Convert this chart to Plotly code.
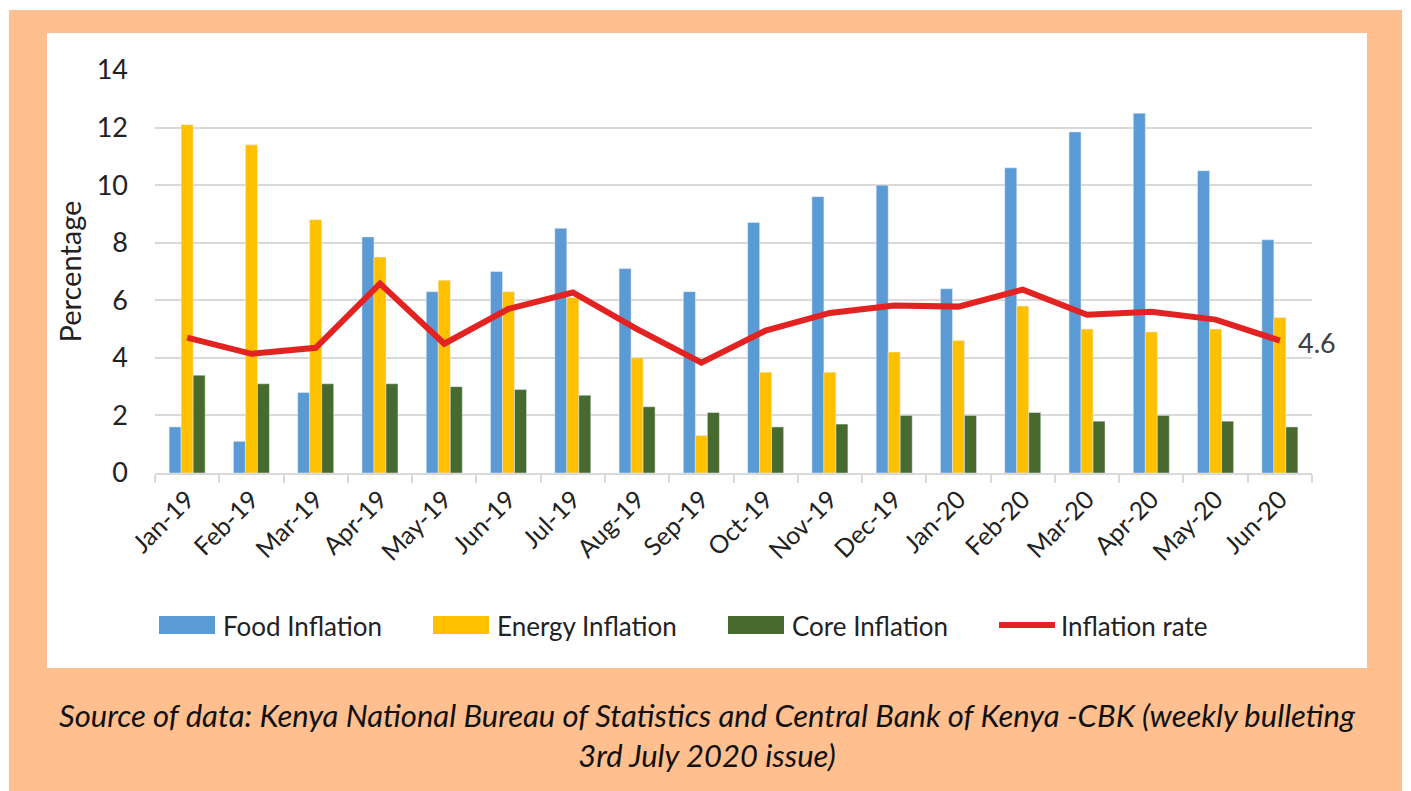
import plotly.graph_objects as go

months = ["Jan-19", "Feb-19", "Mar-19", "Apr-19", "May-19", "Jun-19", "Jul-19", "Aug-19", "Sep-19",
          "Oct-19", "Nov-19", "Dec-19", "Jan-20", "Feb-20", "Mar-20", "Apr-20", "May-20", "Jun-20"]
food = [1.6, 1.1, 2.8, 8.2, 6.3, 7.0, 8.5, 7.1, 6.3, 8.7, 9.6, 10.0, 6.4, 10.6, 11.85, 12.5, 10.5, 8.1]
energy = [12.1, 11.4, 8.8, 7.5, 6.7, 6.3, 6.1, 4.0, 1.3, 3.5, 3.5, 4.2, 4.6, 5.8, 5.0, 4.9, 5.0, 5.4]
core = [3.4, 3.1, 3.1, 3.1, 3.0, 2.9, 2.7, 2.3, 2.1, 1.6, 1.7, 2.0, 2.0, 2.1, 1.8, 2.0, 1.8, 1.6]
inflation = [4.7, 4.14, 4.35, 6.58, 4.49, 5.7, 6.27, 5.0, 3.83, 4.95, 5.56, 5.82, 5.78, 6.37, 5.5, 5.6, 5.33, 4.6]

series_names = ["Food Inflation", "Energy Inflation", "Core Inflation", "Inflation rate"]
colors = ["#5B9BD5", "#FFC000", "#476A2E", "#E32322"]

W, H = 1411, 791
L, R, T, B = 155, W - 1312, 70, H - 473
FONT = "Lato"
TXT = "#222222"

fig = go.Figure()
for name, vals, col in zip(series_names[:3], [food, energy, core], colors[:3]):
    fig.add_trace(go.Bar(x=months, y=vals, name=name, marker_color=col, showlegend=False))
fig.add_trace(go.Scatter(x=months, y=inflation, name=series_names[3], mode="lines",
                         line=dict(color=colors[3], width=6), showlegend=False))

fig.add_annotation(x=months[-1], y=inflation[-1], text=f"{inflation[-1]}", showarrow=False,
                   xanchor="left", xshift=16, yshift=-2,
                   font=dict(family=FONT, size=27, color="#404040"))


def px_x(p):
    return (p - L) / (W - L - R)


def px_y(p):
    return (H - B - p) / (H - T - B)


# background frames
fig.add_shape(type="rect", xref="paper", yref="paper", x0=px_x(9), x1=px_x(1402), y0=px_y(791), y1=px_y(10),
              fillcolor="#FFBF8E", line_width=0, layer="below")
fig.add_shape(type="rect", xref="paper", yref="paper", x0=px_x(47), x1=px_x(1367), y0=px_y(668), y1=px_y(33),
              fillcolor="white", line_width=0, layer="below")

# legend (drawn manually to get the wide swatches)
leg_y = 625
swatch_x = [159, 433, 728, 997]
for i, (name, col) in enumerate(zip(series_names, colors)):
    x0 = swatch_x[i]
    if i < 3:
        fig.add_shape(type="rect", xref="paper", yref="paper", x0=px_x(x0), x1=px_x(x0 + 56),
                      y0=px_y(leg_y + 9), y1=px_y(leg_y - 9), fillcolor=col, line_width=0)
    else:
        fig.add_shape(type="line", xref="paper", yref="paper", x0=px_x(x0 + 2), x1=px_x(x0 + 58),
                      y0=px_y(leg_y), y1=px_y(leg_y), line=dict(color=col, width=6))
    fig.add_annotation(xref="paper", yref="paper", x=px_x(x0 + 62), y=px_y(leg_y + 1), xanchor="left",
                       yanchor="middle", text=name, showarrow=False,
                       font=dict(family=FONT, size=26, color=TXT))

fig.add_annotation(xref="paper", yref="paper", x=px_x(707), y=px_y(735), xanchor="center", yanchor="middle",
                   text="<i>Source of data: Kenya National Bureau of Statistics and Central Bank of Kenya -CBK (weekly bulleting<br>3rd July 2020 issue)</i>",
                   showarrow=False, align="center",
                   font=dict(family=FONT, size=31, color="#111111"))

fig.update_layout(
    width=W, height=H,
    margin=dict(l=L, r=R, t=T, b=B, autoexpand=False),
    paper_bgcolor="white", plot_bgcolor="white",
    barmode="group", bargap=0.44, bargroupgap=0,
    font=dict(family=FONT, color=TXT),
    showlegend=False,
)
fig.update_xaxes(type="category", range=[-0.5, len(months) - 0.5], showgrid=False, showline=True,
                 linecolor="#D9D9D9", linewidth=2,
                 ticks="outside", tickson="boundaries", ticklen=8, tickcolor="#D9D9D9", tickwidth=2,
                 tickangle=-45, tickfont=dict(family=FONT, size=25, color=TXT))
fig.update_yaxes(range=[0, 14], dtick=2, showgrid=True, gridcolor="#D9D9D9", gridwidth=2,
                 zeroline=False, showline=False, ticks="", ticklabelstandoff=26,
                 tickfont=dict(family=FONT, size=27, color=TXT),
                 title=dict(text="Percentage", font=dict(family=FONT, size=29, color=TXT), standoff=6))

fig.write_html("out.html", config={"displayModeBar": False},
               post_script="document.body.style.margin='0';document.body.style.overflow='hidden';")
